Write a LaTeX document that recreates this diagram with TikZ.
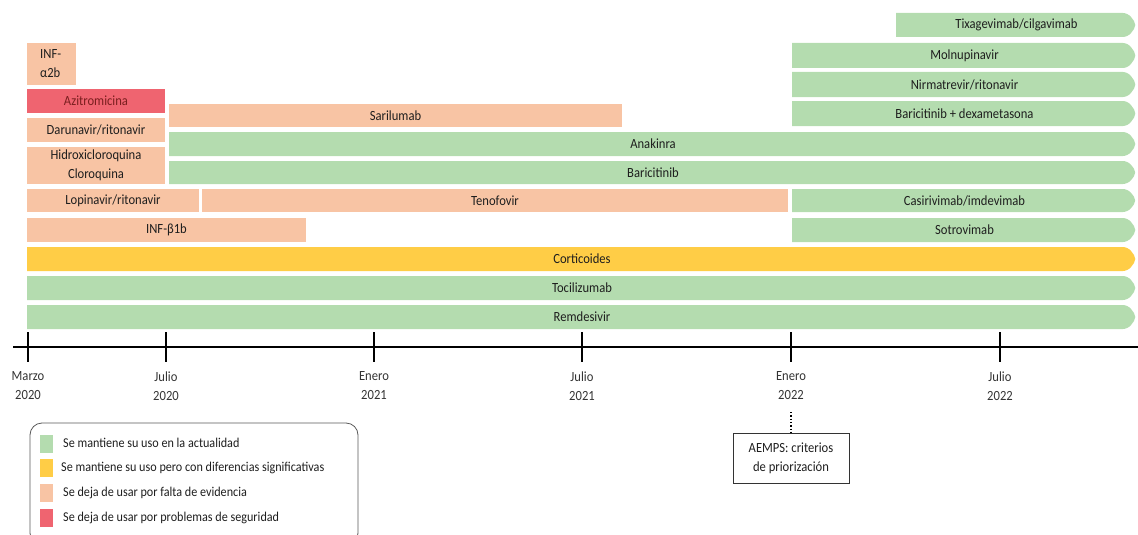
\documentclass[tikz,border=0pt]{standalone}
\usepackage{fontspec}
\setmainfont{Carlito}[FakeStretch=0.9]
\definecolor{cgreen}{HTML}{B4DCAF}
\definecolor{cyellow}{HTML}{FFCD46}
\definecolor{cpeach}{HTML}{F8C4A4}
\definecolor{cred}{HTML}{EF6470}
\definecolor{txt}{HTML}{1E1E1E}
\definecolor{axtxt}{HTML}{333333}
\definecolor{redtxt}{HTML}{7A1F1F}
% square bar: name, x1, x2, ytop, ybot, colour, text
\newcommand{\tlsq}[7]{%
  \fill[#6] (#2,#4) rectangle (#3,#5);
  \node[lbl] (#1) at ({(#2+#3)/2},{(#4+#5)/2}) {#7};}
% pointed bar (right end)
\newcommand{\tlpt}[7]{%
  \fill[#6] (#2,#4) [rounded corners=5pt] -- ({#3-9},#4) -- (#3,{(#4+#5)/2}) -- ({#3-9},#5) [sharp corners] -- (#2,#5) -- cycle;
  \node[lbl] (#1) at ({(#2+#3)/2},{(#4+#5)/2}) {#7};}
\begin{document}
\begin{tikzpicture}[x=1pt,y=-1pt,
  lbl/.style={font=\fontsize{14}{19}\selectfont, text=txt, inner sep=0pt, align=center},
  axlbl/.style={font=\fontsize{14}{19}\selectfont, text=axtxt, inner sep=0pt, align=center},
  leglbl/.style={font=\fontsize{13.5}{19}\selectfont, text=txt, inner sep=0pt, anchor=west},
  tick/.style={line width=1.6pt, draw=black},
  swatch/.style={inner sep=0pt, minimum width=13pt, minimum height=18pt}]
\useasboundingbox (0,0) rectangle (1138,535);
% right-hand column
\tlpt{tixa}{896}{1137}{13}{37}{cgreen}{Tixagevimab/cilgavimab}
\tlpt{molnu}{792}{1137}{43}{68}{cgreen}{Molnupinavir}
\tlpt{nirma}{792}{1137}{72}{97}{cgreen}{Nirmatrevir/ritonavir}
\tlpt{bardexa}{792}{1137}{101}{126}{cgreen}{Baricitinib + dexametasona}
% left column
\fill[cpeach] (27,43) rectangle (76,85);
\node[lbl, align=left, anchor=west] (infa) at (40,64) {INF-\\α2b};
\tlsq{azitro}{27}{165}{89}{113}{cred}{\textcolor{redtxt}{Azitromicina}}
\tlsq{sarilu}{169}{622}{104}{127}{cpeach}{Sarilumab}
\tlsq{daruna}{27}{165}{118}{142}{cpeach}{Darunavir/ritonavir}
\tlpt{anakin}{169}{1137}{132}{156}{cgreen}{Anakinra}
\tlsq{hidroxi}{27}{165}{147}{184}{cpeach}{Hidroxicloroquina\\Cloroquina}
\tlpt{barici}{169}{1137}{161}{184}{cgreen}{Baricitinib}
\tlsq{lopina}{27}{199}{189}{212}{cpeach}{Lopinavir/ritonavir}
\tlsq{tenofo}{202}{788}{189}{212}{cpeach}{Tenofovir}
\tlpt{casiri}{792}{1137}{189}{212}{cgreen}{Casirivimab/imdevimab}
\tlsq{infb}{27}{306}{218}{242}{cpeach}{INF-β1b}
\tlpt{sotro}{792}{1137}{218}{242}{cgreen}{Sotrovimab}
\tlpt{cortico}{27}{1137}{247}{271}{cyellow}{Corticoides}
\tlpt{tocili}{27}{1137}{276}{300}{cgreen}{Tocilizumab}
\tlpt{remdes}{27}{1137}{305}{329}{cgreen}{Remdesivir}
% axis
\coordinate (axL) at (13,347);
\coordinate (axR) at (1138,347);
\draw[line width=2.6pt] (axL) -- (axR);
\foreach \x/\lab/\nm in {28/{Marzo\\2020}/m20, 166/{Julio\\2020}/j20, 374/{Enero\\2021}/e21, 582/{Julio\\2021}/j21, 791/{Enero\\2022}/e22, 1000/{Julio\\2022}/j22}{
  \draw[tick] (\x,332) -- (\x,362);
  \node[axlbl] (\nm) at (\x,386) {\lab};
}
% AEMPS note
\node[draw=black!80, line width=0.8pt, minimum width=116pt, minimum height=50pt, axlbl, text=txt] (aemps) at (791,458) {AEMPS: criterios\\de priorización};
\coordinate (dotTop) at (791,412);
\draw[dotted, line width=1.3pt] (dotTop) -- (aemps.north);
% legend
\draw[black!65, line width=0.8pt, rounded corners=12pt] (30,423) rectangle (358,545);
\node[swatch, fill=cgreen] (sw1) at (46.5,444) {};
\node[swatch, fill=cyellow] (sw2) at (46.5,468) {};
\node[swatch, fill=cpeach] (sw3) at (46.5,493) {};
\node[swatch, fill=cred] (sw4) at (46.5,518) {};
\node[leglbl] (l1) at (63,443) {Se mantiene su uso en la actualidad};
\node[leglbl] (l2) at (61,468) {Se mantiene su uso pero con diferencias significativas};
\node[leglbl] (l3) at (63,493) {Se deja de usar por falta de evidencia};
\node[leglbl] (l4) at (63,518) {Se deja de usar por problemas de seguridad};
\end{tikzpicture}
\end{document}
